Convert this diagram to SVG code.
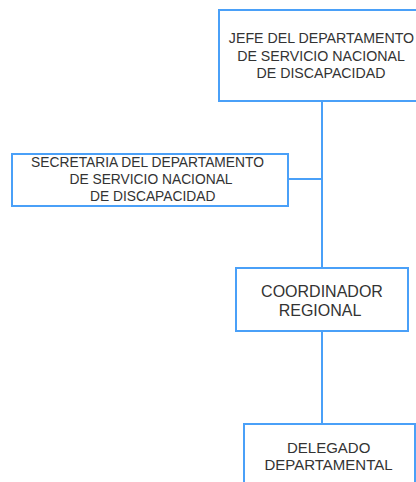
<svg xmlns="http://www.w3.org/2000/svg" width="416" height="482" viewBox="0 0 416 482">
<style>
.box{fill:#ffffff;stroke:#4aa0f8;stroke-width:2}
.conn{fill:none;stroke:#4aa0f8;stroke-width:2}
text{font-family:"Liberation Sans",Arial,sans-serif;font-size:14px;fill:#333333;text-anchor:middle}
.t1{font-size:14.2px}
.t2{font-size:13.8px}
.t3{font-size:16px}
.t4{font-size:15px}
</style>
<rect x="0" y="0" width="416" height="482" fill="#ffffff"/>
<g id="connectors">
<line class="conn" x1="322" y1="101" x2="322" y2="268"/>
<line class="conn" x1="288" y1="179" x2="322" y2="179"/>
<line class="conn" x1="322" y1="331" x2="322" y2="424"/>
</g>
<g id="jefe">
<rect class="box" x="219" y="10" width="205" height="91"/>
<text class="t1" x="321.5" y="43">JEFE DEL DEPARTAMENTO</text>
<text class="t1" x="321" y="60.5">DE SERVICIO NACIONAL</text>
<text class="t1" x="321" y="78">DE DISCAPACIDAD</text>
</g>
<g id="secretaria">
<rect class="box" x="12" y="154" width="276" height="52"/>
<text class="t2" x="147.5" y="167">SECRETARIA DEL DEPARTAMENTO</text>
<text class="t2" x="151" y="184.3">DE SERVICIO NACIONAL</text>
<text class="t2" x="152.7" y="201">DE DISCAPACIDAD</text>
</g>
<g id="coordinador">
<rect class="box" x="236" y="268" width="172" height="63"/>
<text class="t3" x="322" y="296.5">COORDINADOR</text>
<text class="t3" x="320" y="315.5">REGIONAL</text>
</g>
<g id="delegado">
<rect class="box" x="244" y="424" width="171" height="70"/>
<text class="t4" x="328.7" y="453.3">DELEGADO</text>
<text class="t4" x="328.5" y="470">DEPARTAMENTAL</text>
</g>
</svg>
